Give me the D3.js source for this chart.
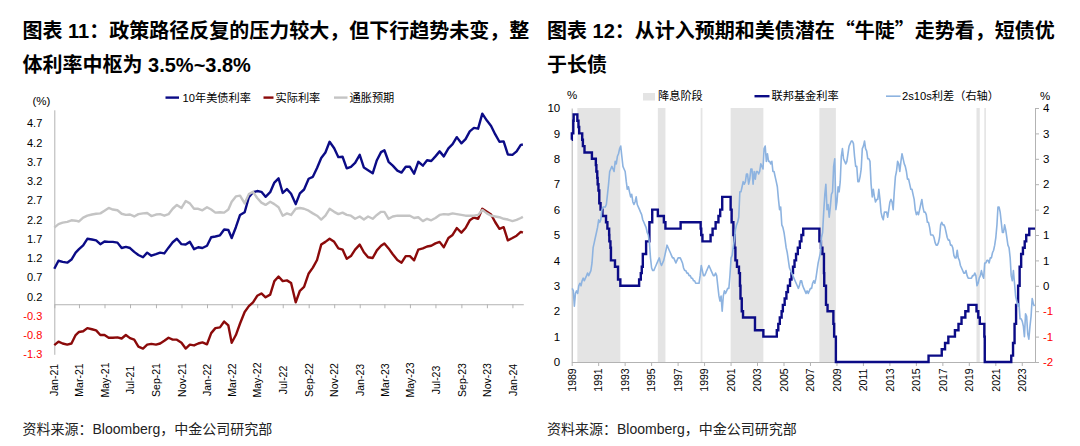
<!DOCTYPE html>
<html><head><meta charset="utf-8">
<script src="https://cdn.jsdelivr.net/npm/d3@7/dist/d3.min.js"></script>
<style>html,body{margin:0;padding:0;background:#fff;}svg{display:block;}</style>
</head><body>
<svg id="c" width="1080" height="446"></svg>
<script>
// ================= DATA =================
// ---- Left chart (图表 11) ----
const leftSeriesNames = ["10年美债利率", "实际利率", "通胀预期"];
// observation dates: 1st, 11th, 21st of each month Jan-2021..Jan-2024, plus last obs
const leftDates = [];
for (let y = 2021; y <= 2024; y++) {
  for (let m = 0; m < 12; m++) {
    if (y === 2024 && m > 0) break;
    [1, 11, 21].forEach(d => leftDates.push(new Date(y, m, d)));
  }
}
leftDates.push(new Date(2024, 0, 26));

const yield10 = [
  0.92,1.13,1.10, 1.08,1.16,1.34, 1.43,1.53,1.70, 1.68,1.66,1.56, 1.63,1.62,1.62, 1.60,1.46,1.49,
  1.46,1.36,1.28, 1.22,1.34,1.26, 1.30,1.34,1.32, 1.47,1.61,1.70, 1.56,1.55,1.62, 1.43,1.48,1.46,
  1.52,1.74,1.76, 1.79,1.94,1.93, 1.72,2.00,2.32, 2.39,2.78,2.91, 2.94,2.92,2.79, 2.91,3.16,3.27,
  2.89,2.99,2.87, 2.60,2.88,2.98, 3.26,3.31,3.54, 3.80,3.94,4.22, 4.05,3.82,3.83, 3.53,3.57,3.67,
  3.88,3.55,3.48, 3.40,3.74,3.95, 4.00,3.70,3.60, 3.47,3.42,3.57, 3.57,3.39,3.70, 3.60,3.74,3.72,
  3.84,3.97,3.84, 4.05,4.16,4.34, 4.18,4.29,4.49, 4.58,4.56,4.95, 4.77,4.63,4.41, 4.22,4.23,3.89,
  3.88,3.97,4.14, 4.15
];
const realRate = [
  -1.06,-0.97,-1.02, -1.05,-1.02,-0.80, -0.72,-0.70,-0.62, -0.65,-0.68,-0.80, -0.80,-0.87,-0.87, -0.86,-0.89,-0.80,
  -0.88,-0.92,-1.10, -1.15,-1.05,-1.03, -1.05,-1.02,-0.95, -0.87,-0.92,-0.92, -1.00,-1.15,-1.05, -1.07,-1.02,-0.99,
  -1.04,-0.75,-0.62, -0.60,-0.45,-0.55, -1.00,-0.80,-0.50, -0.20,-0.05,0.05, 0.22,0.28,0.18, 0.25,0.60,0.72,
  0.60,0.62,0.55, 0.05,0.35,0.45, 0.80,0.95,1.15, 1.55,1.62,1.70, 1.62,1.45,1.42, 1.18,1.25,1.42,
  1.55,1.35,1.22, 1.20,1.40,1.52, 1.58,1.45,1.30, 1.15,1.08,1.25, 1.25,1.14,1.42, 1.45,1.50,1.52,
  1.58,1.62,1.48, 1.72,1.80,1.98, 1.86,1.98,2.18, 2.25,2.22,2.48, 2.40,2.33,2.13, 1.96,2.00,1.66,
  1.72,1.78,1.88, 1.86
];
const breakeven = [
  1.99,2.08,2.12, 2.14,2.18,2.17, 2.15,2.25,2.30, 2.33,2.35,2.36, 2.43,2.50,2.46, 2.44,2.35,2.32,
  2.33,2.28,2.34, 2.36,2.37,2.29, 2.33,2.34,2.30, 2.34,2.48,2.58, 2.50,2.68,2.62, 2.48,2.48,2.44,
  2.52,2.46,2.38, 2.39,2.38,2.46, 2.66,2.80,2.82, 2.62,2.86,2.92, 2.76,2.64,2.58, 2.66,2.60,2.52,
  2.30,2.36,2.32, 2.48,2.50,2.48, 2.43,2.36,2.30, 2.20,2.30,2.48, 2.40,2.34,2.38, 2.32,2.30,2.22,
  2.28,2.20,2.28, 2.22,2.32,2.40, 2.40,2.22,2.28, 2.30,2.30,2.30, 2.30,2.24,2.26, 2.16,2.22,2.18,
  2.24,2.32,2.34, 2.33,2.36,2.34, 2.32,2.30,2.30, 2.30,2.32,2.45, 2.36,2.30,2.28, 2.26,2.22,2.20,
  2.16,2.19,2.24, 2.27
];
const leftYTicks = [-1.3,-0.8,-0.3,0.2,0.7,1.2,1.7,2.2,2.7,3.2,3.7,4.2,4.7];
const leftXTicks = [];
for (let i = 0; i <= 36; i += 2) leftXTicks.push(new Date(2021, i, 1));

// ---- Right chart (图表 12) ----
const rightSeriesNames = ["降息阶段", "联邦基金利率", "2s10s利差（右轴）"];
const cutStart = ["1989-06-06","1995-07-06","1998-09-29","2001-01-03","2007-09-18","2019-07-31","2020-03-03"];
const cutEnd   = ["1992-09-04","1996-01-31","1998-11-17","2003-06-25","2008-12-16","2019-10-30","2020-03-16"];
const fedDates = ["1989-01-01","1989-01-05","1989-02-14","1989-02-24","1989-06-06","1989-07-07","1989-07-27",
  "1989-10-18","1989-11-06","1989-12-20","1990-07-13","1990-10-29","1990-11-13","1990-12-07","1990-12-18",
  "1991-01-09","1991-02-01","1991-03-08","1991-04-30","1991-08-06","1991-09-13","1991-10-31","1991-11-06",
  "1991-12-06","1991-12-20","1992-04-09","1992-07-02","1992-09-04","1994-02-04","1994-03-22","1994-04-18",
  "1994-05-17","1994-08-16","1994-11-15","1995-02-01","1995-07-06","1995-12-19","1996-01-31","1997-03-25",
  "1998-09-29","1998-10-15","1998-11-17","1999-06-30","1999-08-24","1999-11-16","2000-02-02","2000-03-21",
  "2000-05-16","2001-01-03","2001-01-31","2001-03-20","2001-04-18","2001-05-15","2001-06-27","2001-08-21",
  "2001-09-17","2001-10-02","2001-11-06","2001-12-11","2002-11-06","2003-06-25","2004-06-30","2004-08-10",
  "2004-09-21","2004-11-10","2004-12-14","2005-02-02","2005-03-22","2005-05-03","2005-06-30","2005-08-09",
  "2005-09-20","2005-11-01","2005-12-13","2006-01-31","2006-03-28","2006-05-10","2006-06-29","2007-09-18",
  "2007-10-31","2007-12-11","2008-01-22","2008-01-30","2008-03-18","2008-04-30","2008-10-08","2008-10-29",
  "2008-12-16","2015-12-17","2016-12-15","2017-03-16","2017-06-15","2017-12-14","2018-03-22","2018-06-14",
  "2018-09-27","2018-12-20","2019-08-01","2019-09-19","2019-10-31","2020-03-04","2020-03-16","2022-03-17",
  "2022-05-05","2022-06-16","2022-07-28","2022-09-22","2022-11-03","2022-12-15","2023-02-02","2023-03-23",
  "2023-05-04","2023-07-27","2024-01-01"];
const fedRates = [8.75,9.0,9.5,9.75,9.5,9.25,9.0,
  8.75,8.5,8.25,8.0,7.75,7.5,7.25,7.0,
  6.75,6.25,6.0,5.75,5.5,5.25,5.0,4.75,
  4.5,4.0,3.75,3.25,3.0,3.25,3.5,3.75,
  4.25,4.75,5.5,6.0,5.75,5.5,5.25,5.5,
  5.25,5.0,4.75,5.0,5.25,5.5,5.75,6.0,
  6.5,6.0,5.5,5.0,4.5,4.0,3.75,3.5,
  3.0,2.5,2.0,1.75,1.25,1.0,1.25,1.5,
  1.75,2.0,2.25,2.5,2.75,3.0,3.25,3.5,
  3.75,4.0,4.25,4.5,4.75,5.0,5.25,4.75,
  4.5,4.25,3.5,3.0,2.25,2.0,1.5,1.0,
  0.0,0.25,0.5,0.75,1.0,1.25,1.5,1.75,
  2.0,2.25,2.0,1.75,1.5,1.0,0.0,0.25,
  0.75,1.5,2.25,3.0,3.75,4.25,4.5,4.75,
  5.0,5.25,5.25];
// 2s10s spread, monthly (Jan..Dec), 1989-2023
const spreadStartYear = 1989;
const spread2s10s = [
  -0.05,-0.10,-0.40,-0.15,-0.10,-0.15, 0.00, 0.05, 0.00, 0.10, 0.15, 0.10,
   0.15, 0.20, 0.25, 0.20, 0.25, 0.30, 0.45, 0.75, 0.85, 0.95, 1.05, 1.15,
   1.30, 1.25, 1.30, 1.50, 1.55, 1.55, 1.55, 1.60, 1.80, 2.00, 2.25, 2.30,
   2.35, 2.30, 2.25, 2.45, 2.40, 2.55, 2.60, 2.70, 2.75, 2.55, 2.35, 2.30,
   2.25, 2.05, 1.90, 1.95, 1.85, 1.75, 1.80, 1.65, 1.60, 1.65, 1.75, 1.60,
   1.55, 1.50, 1.45, 1.40, 1.30, 1.25, 1.20, 1.15, 1.05, 1.00, 0.85, 0.55,
   0.35, 0.30, 0.30, 0.35, 0.40, 0.45, 0.50, 0.55, 0.45, 0.40, 0.45, 0.50,
   0.60, 0.70, 0.80, 0.75, 0.70, 0.65, 0.60, 0.55, 0.55, 0.50, 0.45, 0.50,
   0.55, 0.55, 0.55, 0.50, 0.45, 0.35, 0.30, 0.30, 0.25, 0.25, 0.20, 0.20,
   0.15, 0.15, 0.10, 0.10, 0.05, 0.05, 0.05, 0.05, 0.20, 0.40, 0.30, 0.20,
   0.20, 0.25, 0.30, 0.35, 0.40, 0.35, 0.30, 0.25, 0.20, 0.20, 0.25, 0.20,
   0.00,-0.20,-0.30,-0.20,-0.50,-0.20,-0.10,-0.15,-0.10,-0.05,-0.05, 0.20,
   0.55, 0.60, 0.75, 0.90, 1.10, 1.20, 1.25, 1.35, 1.85, 1.85, 1.95, 2.05,
   2.00, 2.05, 2.20, 2.20, 2.00, 2.10, 2.30, 2.30, 2.00, 2.25, 2.10, 2.25,
   2.25, 2.20, 2.25, 2.40, 2.35, 2.30, 2.70, 2.75, 2.45, 2.60, 2.45, 2.45,
   2.40, 2.45, 2.25, 2.25, 2.15, 2.05, 1.95, 1.70, 1.50, 1.55, 1.20, 1.15,
   1.05, 0.90, 0.75, 0.65, 0.50, 0.35, 0.30, 0.25, 0.20, 0.15, 0.10, 0.05,
   0.00,-0.05, 0.00, 0.10, 0.10, 0.00,-0.05,-0.10,-0.15,-0.10,-0.15,-0.10,
  -0.05,-0.05, 0.05, 0.10, 0.05, 0.15, 0.30, 0.45, 0.55, 0.65, 0.95, 1.05,
   1.45, 1.80, 2.00, 1.50, 1.60, 1.35, 1.55, 1.80, 1.85, 2.35, 2.50, 1.50,
   1.65, 1.95, 1.85, 2.05, 2.55, 2.70, 2.50, 2.45, 2.40, 2.45, 2.60, 2.75,
   2.80, 2.85, 2.85, 2.80, 2.55, 2.35, 2.35, 2.05, 2.05, 2.15, 2.30, 2.70,
   2.75, 2.85, 2.70, 2.65, 2.50, 2.50, 2.45, 2.00, 1.75, 1.90, 1.75, 1.65,
   1.70, 1.70, 1.90, 1.70, 1.45, 1.35, 1.30, 1.45, 1.45, 1.45, 1.35, 1.50,
   1.65, 1.70, 1.65, 1.50, 1.85, 2.15, 2.25, 2.45, 2.40, 2.25, 2.45, 2.60,
   2.50, 2.40, 2.35, 2.25, 2.10, 2.10, 2.00, 1.90, 1.90, 1.80, 1.70, 1.50,
   1.40, 1.45, 1.40, 1.50, 1.60, 1.70, 1.55, 1.45, 1.45, 1.40, 1.25, 1.25,
   1.15, 1.00, 1.00, 1.00, 0.95, 0.85, 0.80, 0.80, 0.85, 0.95, 1.20, 1.25,
   1.20, 1.20, 1.15, 1.05, 0.95, 0.90, 0.90, 0.80, 0.80, 0.75, 0.60, 0.55,
   0.55, 0.70, 0.55, 0.50, 0.40, 0.35, 0.30, 0.25, 0.25, 0.30, 0.20, 0.15,
   0.15, 0.15, 0.15, 0.20, 0.20, 0.25, 0.20, 0.00, 0.05, 0.15, 0.20, 0.30,
   0.20, 0.15, 0.45, 0.45, 0.50, 0.50, 0.45, 0.55, 0.55, 0.65, 0.70, 0.80,
   0.95, 1.20, 1.55, 1.55, 1.45, 1.25, 1.05, 1.05, 1.20, 1.10, 0.95, 0.80,
   0.75, 0.55, 0.20, 0.10, 0.30, 0.05,-0.20,-0.30,-0.40,-0.35,-0.65,-0.65,
  -0.70,-0.80,-1.00,-0.55,-0.60,-0.95,-1.05,-0.80,-0.60,-0.25,-0.35,-0.40
];
const rightYTicks = [0,1,2,3,4,5,6,7,8,9,10];
const rightY2Ticks = [-1.5,-1,-0.5,0,0.5,1,1.5,2,2.5,3,3.5];
const rightXTicks = [];
for (let y = 1989; y <= 2023; y += 2) rightXTicks.push(new Date(y, 0, 1));

// ================= DRAWING =================
const FONT = '"Liberation Sans", Arial, "Noto Sans CJK SC", sans-serif';
const CJK = '"Noto Sans CJK SC", sans-serif';
const AXIS = '#B3B3B3';
const NAVY = '#0B0B86', DRED = '#8B0A0A', LGRAY = '#C4C4C4', LBLUE = '#8DB3E0', SHADE = '#E4E4E4';
const parse = d3.timeParse('%Y-%m-%d');
const svg = d3.select('#c');

function title(x, parts1, line2) {
  const t = svg.append('text').attr('x', x).attr('y', 37.5).attr('font-family', FONT)
    .attr('font-size', 20).attr('font-weight', 'bold').attr('fill', '#000');
  parts1.forEach(([s, f]) => t.append('tspan').attr('font-family', f).text(s));
  svg.append('text').attr('x', x).attr('y', 71.5).attr('font-family', FONT)
    .attr('font-size', 20).attr('font-weight', 'bold').attr('fill', '#000').text(line2);
}
title(22.5, [["图表 11：政策路径反复的压力较大，但下行趋势未变，整", FONT]], "体利率中枢为 3.5%~3.8%");
title(547, [["图表 12：从计入预期和美债潜在", FONT], ["“", CJK], ["牛陡", FONT], ["”", CJK], ["走势看，短债优", FONT]], "于长债");

function foot(x) {
  svg.append('text').attr('x', x).attr('y', 434).attr('font-family', FONT).attr('font-size', 14)
    .attr('fill', '#222').text('资料来源：Bloomberg，中金公司研究部');
}
foot(22.5); foot(547);

function txt(x, y, s, size, anchor) {
  return svg.append('text').attr('x', x).attr('y', y).attr('dy', '0.35em').attr('font-family', FONT)
    .attr('font-size', size || 11).attr('text-anchor', anchor || 'start').attr('fill', '#000').text(s);
}
const fmtNum = d => d.toFixed(1);

// ---------- Left chart ----------
const lx = d3.scaleTime().domain([new Date(2021, 0, 1), new Date(2024, 0, 27)]).range([54.3, 523.3]);
const ly = d3.scaleLinear().domain([-1.3, 5.05]).range([354.3, 109.8]);

svg.append('g').attr('transform', 'translate(54.3,0)')
  .call(d3.axisLeft(ly).tickValues(leftYTicks).tickSize(0).tickSizeOuter(0).tickPadding(12).tickFormat(fmtNum))
  .attr('font-family', FONT).attr('font-size', 11)
  .call(g => g.select('.domain').attr('stroke', AXIS))
  .call(g => g.selectAll('.tick text').attr('fill', d => d < 0 ? '#FF0000' : '#000'));

svg.append('g').attr('transform', `translate(0,${ly(0)})`)
  .call(d3.axisBottom(lx).tickValues(leftXTicks).tickSize(4).tickSizeOuter(0).tickFormat(d3.timeFormat('%b-%y')))
  .attr('font-family', FONT).attr('font-size', 10.5)
  .call(g => g.select('.domain').attr('stroke', AXIS))
  .call(g => g.selectAll('.tick line').attr('stroke', AXIS))
  .call(g => g.selectAll('.tick text').attr('fill', '#000').attr('y', 0).attr('dy', '0.35em')
    .attr('text-anchor', 'middle').attr('transform', `translate(0,${380 - ly(0)}) rotate(-90)`));

const lineL = d3.line().x((d, i) => lx(leftDates[i])).y(d => ly(d));
[[yield10, NAVY], [realRate, DRED], [breakeven, LGRAY]].forEach(([arr, c]) => {
  svg.append('path').datum(arr).attr('d', lineL).attr('fill', 'none').attr('stroke', c)
    .attr('stroke-width', 2.4).attr('stroke-linejoin', 'round');
});

txt(32.5, 100.5, '(%)', 11.5);
// legend
[[165.5, 179, 182.5, leftSeriesNames[0], NAVY], [263.5, 273.5, 275.5, leftSeriesNames[1], DRED], [334, 347.5, 349.5, leftSeriesNames[2], LGRAY]]
  .forEach(([x1, x2, tx, s, c]) => {
    svg.append('line').attr('x1', x1).attr('x2', x2).attr('y1', 97.6).attr('y2', 97.6).attr('stroke', c).attr('stroke-width', 2.4);
    txt(tx, 97.6, s, 11.2);
  });

// ---------- Right chart ----------
const rx = d3.scaleTime().domain([new Date(1989, 0, 1), new Date(2024, 0, 1)]).range([571.7, 1035]);
const ry = d3.scaleLinear().domain([0, 10]).range([362, 108]);
const ry2 = d3.scaleLinear().domain([-1.5, 3.5]).range([362, 108]);

// shaded cut periods
cutStart.forEach((s, i) => {
  const x0 = rx(parse(s)), x1 = rx(parse(cutEnd[i]));
  svg.append('rect').attr('x', x0).attr('y', ry(10)).attr('width', Math.max(1.6, x1 - x0))
    .attr('height', ry(0) - ry(10)).attr('fill', SHADE);
});

svg.append('g').attr('transform', 'translate(571.7,0)')
  .call(d3.axisLeft(ry).tickValues(rightYTicks).tickSize(0).tickSizeOuter(0).tickPadding(11.5).tickFormat(d3.format('d')))
  .attr('font-family', FONT).attr('font-size', 11.5)
  .call(g => g.select('.domain').attr('stroke', AXIS))
  .call(g => g.selectAll('.tick text').attr('fill', '#000'));

const roundAway = d => String(Math.sign(d) * Math.round(Math.abs(d)));
svg.append('g').attr('transform', 'translate(1035,0)')
  .call(d3.axisRight(ry2).tickValues(rightY2Ticks).tickSize(4).tickSizeOuter(0).tickPadding(4).tickFormat(roundAway))
  .attr('font-family', FONT).attr('font-size', 11.5)
  .call(g => g.select('.domain').attr('stroke', AXIS))
  .call(g => g.selectAll('.tick line').attr('stroke', AXIS))
  .call(g => g.selectAll('.tick text').attr('fill', d => d < 0 ? '#FF0000' : '#000'));

svg.append('g').attr('transform', `translate(0,${ry(0)})`)
  .call(d3.axisBottom(rx).tickValues(rightXTicks).tickSize(4).tickSizeOuter(0).tickFormat(d3.timeFormat('%Y')))
  .attr('font-family', FONT).attr('font-size', 10.5)
  .call(g => g.select('.domain').attr('stroke', AXIS))
  .call(g => g.selectAll('.tick line').attr('stroke', AXIS))
  .call(g => g.selectAll('.tick text').attr('fill', '#000').attr('y', 0).attr('dy', '0.35em')
    .attr('text-anchor', 'middle').attr('transform', `translate(0,${380 - ry(0)}) rotate(-90)`));

// fed funds (stepped)
const fedLine = d3.line().curve(d3.curveStepAfter).x((d, i) => rx(parse(fedDates[i]))).y(d => ry(d));
svg.append('path').datum(fedRates).attr('d', fedLine).attr('fill', 'none').attr('stroke', NAVY)
  .attr('stroke-width', 2.4).attr('stroke-linejoin', 'miter');

// 2s10s spread
const spreadLine = d3.line()
  .x((d, i) => rx(new Date(spreadStartYear + Math.floor(i / 12), i % 12, 15)))
  .y(d => ry2(d));
svg.append('path').datum(spread2s10s).attr('d', spreadLine).attr('fill', 'none').attr('stroke', LBLUE)
  .attr('stroke-width', 1.6).attr('stroke-linejoin', 'round');

txt(567, 95, '%', 11.5);
txt(1040, 96, '%', 11.5);
// legend
svg.append('rect').attr('x', 643).attr('y', 93).attr('width', 12).attr('height', 7.5).attr('fill', SHADE);
txt(658, 96.2, rightSeriesNames[0], 11.2);
svg.append('line').attr('x1', 754.5).attr('x2', 769.5).attr('y1', 96.2).attr('y2', 96.2).attr('stroke', NAVY).attr('stroke-width', 2.4);
txt(771.5, 96.2, rightSeriesNames[1], 11.2);
svg.append('line').attr('x1', 886).attr('x2', 900.5).attr('y1', 96.2).attr('y2', 96.2).attr('stroke', LBLUE).attr('stroke-width', 1.6);
txt(902, 96.2, rightSeriesNames[2], 11.2);
</script>
</body></html>
